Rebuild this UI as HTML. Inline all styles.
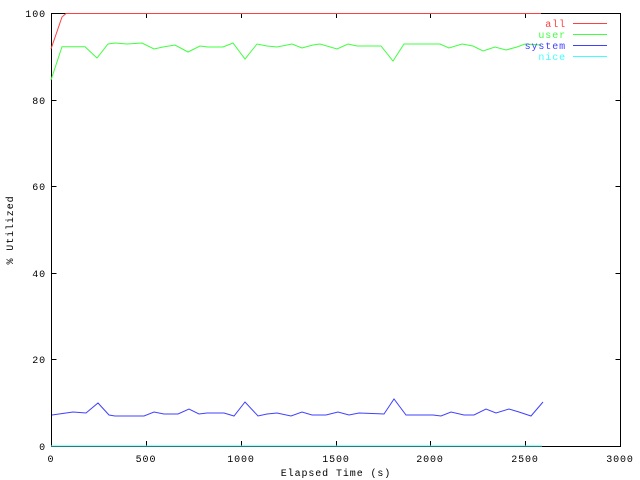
<!DOCTYPE html>
<html><head><meta charset="utf-8"><style>body{margin:0;background:#fff}svg{display:block}text{font-family:"Liberation Mono",monospace;font-size:10px;letter-spacing:0.9px}</style></head><body>
<svg width="640" height="480" xmlns="http://www.w3.org/2000/svg" shape-rendering="crispEdges">
<g stroke="#000" stroke-width="1" fill="none">
<rect x="51.5" y="13.5" width="569" height="433"/>
<path d="M51.5 359.5h5M51.5 273.5h5M51.5 186.5h5M51.5 100.5h5M620.5 359.5h-5M620.5 273.5h-5M620.5 186.5h-5M620.5 100.5h-5
M146.5 446v-5M241.5 446v-5M336.5 446v-5M430.5 446v-5M525.5 446v-5M146.5 13v5M241.5 13v5M336.5 13v5M430.5 13v5M525.5 13v5"/>
</g>
<g fill="#000" text-anchor="end">
<text x="46" y="450">0</text><text x="46" y="363">20</text><text x="46" y="277">40</text><text x="46" y="190">60</text><text x="46" y="104">80</text><text x="46" y="17">100</text>
</g>
<g fill="#000" text-anchor="middle">
<text x="51" y="462">0</text><text x="146" y="462">500</text><text x="241" y="462">1000</text><text x="336" y="462">1500</text><text x="430" y="462">2000</text><text x="525" y="462">2500</text><text x="620" y="462">3000</text>
<text x="336" y="476">Elapsed Time (s)</text>
<text transform="translate(13,230) rotate(-90)">% Utilized</text>
</g>
<g fill="none" stroke-width="1" shape-rendering="auto">
<polyline stroke="#ff4040" points="51,49 62,17 66,13.5 541,13.5"/>
<polyline stroke="#40ff40" points="51,80 62,46.7 85,46.7 97,58 108,44 115,43 127,44 142,43 154,49 163,47 175,45 188,52 200,46 208,47 223,47 233,43 245,59 257,44 267,46 277,47 292,44 302,48 313,45 320,44 337,49 348,44 357,46 381,46 393,61 404,44 440,44 449,48 462,44 473,46 483,51 495,47 506,50 517,47 525,44 541,45"/>
<polyline stroke="#4040ff" points="52,415 66,413 73,412 86,413 98,403 109,415 115,416 144,416 154,412 164,414 178,414 189,409 199,414 207,413 224,413 234,416 245,402 258,416 267,414 277,413 291,416 302,412 312,415 326,415 338,412 349,415 359,413 384,414 394,399 406,415 433,415 441,416 451,412 464,415 474,415 486,409 496,413 509,409 519,412 531,416 543,402"/>
<line stroke="#40ffff" x1="51" y1="446" x2="542" y2="446"/>
</g>
<g text-anchor="end">
<text x="566" y="27" fill="#ff4040">all</text>
<text x="566" y="38" fill="#40ff40">user</text>
<text x="566" y="49" fill="#4040ff">system</text>
<text x="566" y="60" fill="#40ffff">nice</text>
</g>
<g stroke-width="1">
<line x1="573" y1="23.5" x2="607" y2="23.5" stroke="#ff4040"/>
<line x1="573" y1="34.5" x2="607" y2="34.5" stroke="#40ff40"/>
<line x1="573" y1="45.5" x2="607" y2="45.5" stroke="#4040ff"/>
<line x1="573" y1="56.5" x2="607" y2="56.5" stroke="#40ffff"/>
</g>
</svg>
</body></html>
